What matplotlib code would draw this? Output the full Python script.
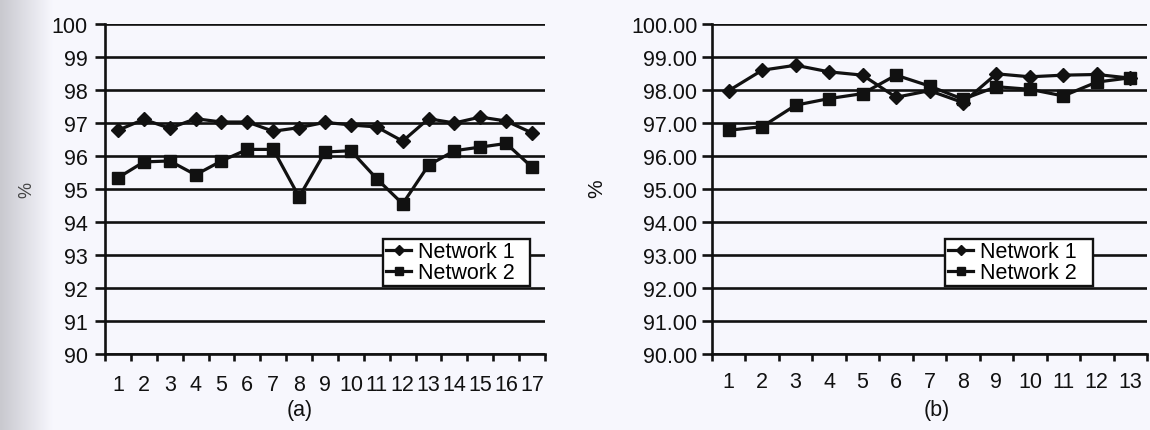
import numpy as np
import matplotlib
matplotlib.use("Agg")
import matplotlib.pyplot as plt
from matplotlib.ticker import FixedLocator, FormatStrFormatter

plt.rcParams['font.family'] = ['Liberation Sans', 'DejaVu Sans']

# Panel (a): 17 runs
runs_a = list(range(1, 18))
net1_a = [96.78, 97.11, 96.84, 97.13, 97.03, 97.03, 96.75, 96.86, 97.02,
          96.94, 96.88, 96.45, 97.13, 97.0, 97.18, 97.06, 96.7]
net2_a = [95.34, 95.82, 95.85, 95.43, 95.85, 96.2, 96.2, 94.76, 96.12,
          96.16, 95.31, 94.55, 95.72, 96.16, 96.27, 96.38, 95.66]

# Panel (b): 13 runs
runs_b = list(range(1, 14))
net1_b = [97.98, 98.6, 98.75, 98.55, 98.45, 97.78, 97.98, 97.62, 98.49,
          98.4, 98.45, 98.47, 98.36]
net2_b = [96.78, 96.89, 97.54, 97.74, 97.89, 98.45, 98.12, 97.72, 98.1,
          98.02, 97.82, 98.24, 98.37]

y_ticks = list(range(90, 101))
series_names = ["Network 1", "Network 2"]
captions = ["(a)", "(b)"]

W, H = 1150, 431
fig = plt.figure(figsize=(W / 100, H / 100), dpi=100, facecolor='#f7f7f7')

# scanned-page shading along the left edge
bg = fig.add_axes([0, 0, 1, 1], zorder=-10)
grad = np.ones((10, 400))
xs = np.linspace(0, 1, 400)
grad[:] = np.clip(0.79 + 0.18 * (xs / 0.045), 0.79, 0.97)
bg.imshow(np.dstack([grad, grad, np.clip(grad + 0.025, 0, 1)]), aspect='auto',
          extent=[0, 1, 0, 1], interpolation='bilinear')
bg.set_axis_off()

FS = 15.5
LW = 1.9


def panel(rect, runs, n1, n2, fmt, ytick_len, ytick_pad, xpad, legend_rect):
    ax = fig.add_axes(rect)
    ax.set_facecolor('none')
    n = len(runs)
    ax.set_xlim(0.5, n + 0.5)
    ax.set_ylim(90, 100)
    for v in y_ticks:
        ax.axhline(v, color='#111111', lw=LW, zorder=1)
    ax.plot(runs, n1, color='#111111', lw=2.3, marker='D', ms=7,
            label=series_names[0], zorder=3)
    ax.plot(runs, n2, color='#111111', lw=2.3, marker='s', ms=8.5,
            label=series_names[1], zorder=3)
    for side in ('top', 'right'):
        ax.spines[side].set_visible(False)
    for side in ('left', 'bottom'):
        ax.spines[side].set_linewidth(LW)
        ax.spines[side].set_color('#111111')
    ax.set_yticks(y_ticks)
    ax.yaxis.set_major_formatter(FormatStrFormatter(fmt))
    ax.tick_params(axis='y', length=ytick_len, width=LW, pad=ytick_pad,
                   labelsize=FS, direction='out', colors='#111111')
    ax.set_xticks(runs)
    ax.set_xticklabels([str(r) for r in runs])
    ax.xaxis.set_minor_locator(FixedLocator(np.arange(0.5, n + 1, 1.0)))
    ax.tick_params(axis='x', which='major', length=0, pad=xpad, labelsize=FS,
                   colors='#111111')
    ax.tick_params(axis='x', which='minor', length=5, width=LW,
                   direction='out', colors='#111111')
    leg = ax.legend(loc='lower left', bbox_to_anchor=legend_rect,
                    bbox_transform=fig.transFigure, mode='expand',
                    fontsize=FS, frameon=True, fancybox=False,
                    borderpad=0.12, labelspacing=0.0, handlelength=1.2,
                    handletextpad=0.3, borderaxespad=0, markerscale=0.7)
    leg.get_frame().set_edgecolor('#111111')
    leg.get_frame().set_linewidth(1.7)
    leg.get_frame().set_facecolor('white')
    leg.get_frame().set_alpha(1)
    leg.set_zorder(5)
    return ax


def fx(px):
    return px / W


def fy(py):
    return 1 - py / H


# axes rectangles in pixels: left, right, top, bottom
ax_a = panel([fx(105), fy(355), fx(545) - fx(105), fy(25) - fy(355)],
             runs_a, net1_a, net2_a, '%d', 7, 5.5, 14.5,
             (fx(383), fy(287), fx(530) - fx(383), fy(237) - fy(287)))
ax_b = panel([fx(712), fy(355), fx(1147) - fx(712), fy(25) - fy(355)],
             runs_b, net1_b, net2_b, '%.2f', 7.5, 3, 12,
             (fx(945), fy(287), fx(1093) - fx(945), fy(237) - fy(287)))

fig.text(fx(27), fy(190), '%', rotation=90, fontsize=13, color='#444444',
         ha='center', va='center')
fig.text(fx(597), fy(189), '%', rotation=90, fontsize=15, color='#111111',
         ha='center', va='center')
fig.text(fx(300), fy(411), captions[0], fontsize=FS, ha='center',
         va='center', color='#111111')
fig.text(fx(937), fy(411), captions[1], fontsize=FS, ha='center',
         va='center', color='#111111')

fig.savefig('out.png', dpi=100, facecolor=fig.get_facecolor())
